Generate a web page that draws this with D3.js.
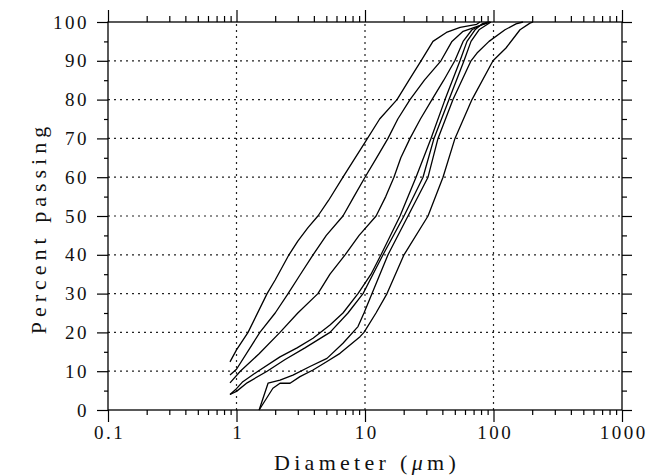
<!DOCTYPE html>
<html><head><meta charset="utf-8">
<script src="https://cdn.jsdelivr.net/npm/d3@7"></script>
<style>body{margin:0;background:#fff}</style>
</head><body>
<svg id="c" width="648" height="475"></svg>
<script>
// ---- data (diameter in µm, percent passing) ----
const curveA_um  = [0.89, 1.0, 1.23, 1.73, 2.0, 2.56, 3.0, 3.6, 4.3, 5.2, 6.74, 10, 13, 17.75, 22, 27.3, 33.8, 43, 55, 74, 78.5];
const curveA_pct = [12.4, 15.5, 20, 30, 33.5, 40, 43.5, 47, 50, 54, 60, 69, 75, 80, 85, 90, 95, 97.3, 98.6, 99.4, 100];
const curveB_um  = [0.89, 1.0, 1.52, 2.0, 2.52, 3.12, 3.94, 5.0, 6.74, 8.2, 10, 12.3, 15.1, 18, 22.4, 29, 39, 47.5, 58, 74, 89, 94];
const curveB_pct = [9, 10.5, 20, 25, 30, 34.8, 40, 45, 50, 55, 60, 65, 70, 75, 80, 85, 90, 95, 97.6, 98.8, 99.7, 100];
const curveC_um  = [0.89, 1.07, 1.5, 2.18, 3.0, 4.3, 5.34, 7.0, 9.0, 12.2, 14.5, 16.8, 19, 22.4, 27, 33.2, 41, 50, 58, 68, 81, 94];
const curveC_pct = [7, 10, 14.5, 20, 25, 30, 35, 40, 45, 50, 55, 60, 65, 70, 75, 80, 85, 90, 95, 98, 99.3, 100];
const curveD_um  = [0.89, 1.0, 1.12, 1.47, 2.18, 2.96, 3.94, 5.34, 6.74, 8.82, 11.14, 13.32, 18.73, 24.95, 32.63, 41.94, 54.87, 62.2, 71.8, 81.4, 90];
const curveD_pct = [4, 5.5, 7.3, 10, 13.7, 16, 18.5, 21.9, 25, 30, 35, 40, 50, 60, 70, 80, 90, 95, 98, 99.5, 100];
const curveE_um  = [0.89, 1.0, 1.21, 1.73, 2.39, 3.41, 5.34, 7.37, 9.65, 11.54, 13.81, 20.11, 28.28, 34.43, 45.06, 58.94, 66.83, 77.14, 95.6];
const curveE_pct = [4, 4.8, 7, 10, 13, 16, 20, 25, 30, 35, 40, 50, 60, 70, 80, 90, 95, 98, 100];
const curveF_um  = [1.5, 1.76, 2.18, 2.75, 3.73, 5.06, 6.74, 8.82, 9.82, 11.34, 15.1, 21.61, 30.93, 37.0, 48.39, 66.83, 74.42, 92.3, 122.9, 149.7, 169.6];
const curveF_pct = [0, 6.9, 7.7, 9, 11.2, 13.3, 17.2, 21.5, 25, 30, 40, 50, 60, 70, 80, 90, 92, 95, 98, 99.5, 100];
const curveG_um  = [1.5, 1.92, 2.18, 2.61, 3.12, 3.94, 5.06, 6.39, 9.15, 9.82, 12.18, 14.84, 20.11, 30.93, 40.46, 50.15, 68.0, 99.1, 125.1, 160.8, 192.3, 203];
const curveG_pct = [0, 5.6, 6.9, 6.9, 8.6, 10.3, 12.5, 14.6, 18.9, 20, 25, 30, 40, 50, 60, 70, 80, 90, 93.3, 98, 99.7, 100];

const xTickValues = [0.1, 1, 10, 100, 1000];
const xTickLabels = ["0.1", "1", "10", "100", "1000"];
const yTickValues = [0, 10, 20, 30, 40, 50, 60, 70, 80, 90, 100];
const yTickLabels = ["0", "10", "20", "30", "40", "50", "60", "70", "80", "90", "100"];
const xGridValues = [1, 10, 100];
const yGridValues = [10, 20, 30, 40, 50, 60, 70, 80, 90];
const xTitle = "Diameter (";
const xTitleUnitMu = "μ";
const xTitleUnitRest = "m)";
const yTitle = "Percent passing";

// ---- build ----
const series = [
  [curveA_um, curveA_pct], [curveB_um, curveB_pct], [curveC_um, curveC_pct],
  [curveD_um, curveD_pct], [curveE_um, curveE_pct], [curveF_um, curveF_pct],
  [curveG_um, curveG_pct]
].map(([u, p]) => u.map((d, i) => [d, p[i]]));

const svg = d3.select('#c');
const x = d3.scaleLog().domain([0.1, 1000]).range([108, 622]);
const y = d3.scaleLinear().domain([0, 100]).range([410, 22]);

const minorX = [];
[0.1, 1, 10, 100].forEach(dec => { for (let k = 2; k <= 9; k++) minorX.push(dec * k); });
const minorY = d3.range(5, 100, 10);

const FONT = "'Liberation Serif', 'Times New Roman', serif";

// grid
const grid = svg.append('g').attr('stroke', '#222').attr('stroke-width', 1.2)
  .attr('stroke-dasharray', '2,4').attr('fill', 'none');
grid.selectAll('.gx').data(xGridValues).join('line')
  .attr('x1', d => x(d)).attr('x2', d => x(d)).attr('y1', y(0)).attr('y2', y(100));
grid.selectAll('.gy').data(yGridValues).join('line')
  .attr('y1', d => y(d)).attr('y2', d => y(d)).attr('x1', x(0.1)).attr('x2', x(1000));

// axes (ticks)
function styleAxis(g) {
  g.select('.domain').remove();
  g.selectAll('line').attr('stroke', '#000').attr('stroke-width', 1.2);
  g.selectAll('text').attr('font-family', FONT).attr('font-size', 19)
    .attr('letter-spacing', 2.5).attr('fill', '#111');
}
// bottom
svg.append('g').attr('transform', `translate(0,${y(0)})`)
  .call(d3.axisBottom(x).tickValues(minorX).tickSize(5).tickFormat(''))
  .call(styleAxis);
svg.append('g').attr('transform', `translate(0,${y(0)})`)
  .call(d3.axisBottom(x).tickValues(xTickValues).tickSize(12).tickPadding(4)
    .tickFormat((d, i) => xTickLabels[i]))
  .call(styleAxis)
  .selectAll('text').attr('dx', 1.2);
// top
svg.append('g').attr('transform', `translate(0,${y(100)})`)
  .call(d3.axisTop(x).tickValues(minorX).tickSize(6).tickFormat(''))
  .call(styleAxis);
svg.append('g').attr('transform', `translate(0,${y(100)})`)
  .call(d3.axisTop(x).tickValues(xTickValues).tickSize(12).tickFormat(''))
  .call(styleAxis);
// left
svg.append('g').attr('transform', `translate(${x(0.1)},0)`)
  .call(d3.axisLeft(y).tickValues(minorY).tickSize(4).tickFormat(''))
  .call(styleAxis);
svg.append('g').attr('transform', `translate(${x(0.1)},0)`)
  .call(d3.axisLeft(y).tickValues(yTickValues).tickSize(11).tickPadding(8)
    .tickFormat((d, i) => yTickLabels[i]))
  .call(styleAxis);
// right
svg.append('g').attr('transform', `translate(${x(1000)},0)`)
  .call(d3.axisRight(y).tickValues(minorY).tickSize(5).tickFormat(''))
  .call(styleAxis);
svg.append('g').attr('transform', `translate(${x(1000)},0)`)
  .call(d3.axisRight(y).tickValues(yTickValues).tickSize(10).tickFormat(''))
  .call(styleAxis);

// frame
svg.append('rect').attr('x', x(0.1)).attr('y', y(100))
  .attr('width', x(1000) - x(0.1)).attr('height', y(0) - y(100))
  .attr('fill', 'none').attr('stroke', '#000').attr('stroke-width', 1.3);

// curves
const line = d3.line().x(d => x(d[0])).y(d => y(d[1]));
svg.append('g').selectAll('path').data(series).join('path')
  .attr('d', line).attr('fill', 'none').attr('stroke', '#000')
  .attr('stroke-width', 1.3).attr('stroke-linejoin', 'round');

// titles
const xt = svg.append('text').attr('x', (x(0.1) + x(1000)) / 2 + 2).attr('y', 470)
  .attr('text-anchor', 'middle').attr('font-family', FONT).attr('font-size', 22)
  .attr('letter-spacing', 4.3).attr('fill', '#111');
xt.append('tspan').text(xTitle);
xt.append('tspan').attr('font-style', 'italic').text(xTitleUnitMu);
xt.append('tspan').text(xTitleUnitRest);

svg.append('text').attr('transform', `translate(46,${(y(0) + y(100)) / 2 + 12}) rotate(-90)`)
  .attr('text-anchor', 'middle').attr('font-family', FONT).attr('font-size', 22)
  .attr('letter-spacing', 5).attr('fill', '#111').text(yTitle);
</script>
</body></html>
